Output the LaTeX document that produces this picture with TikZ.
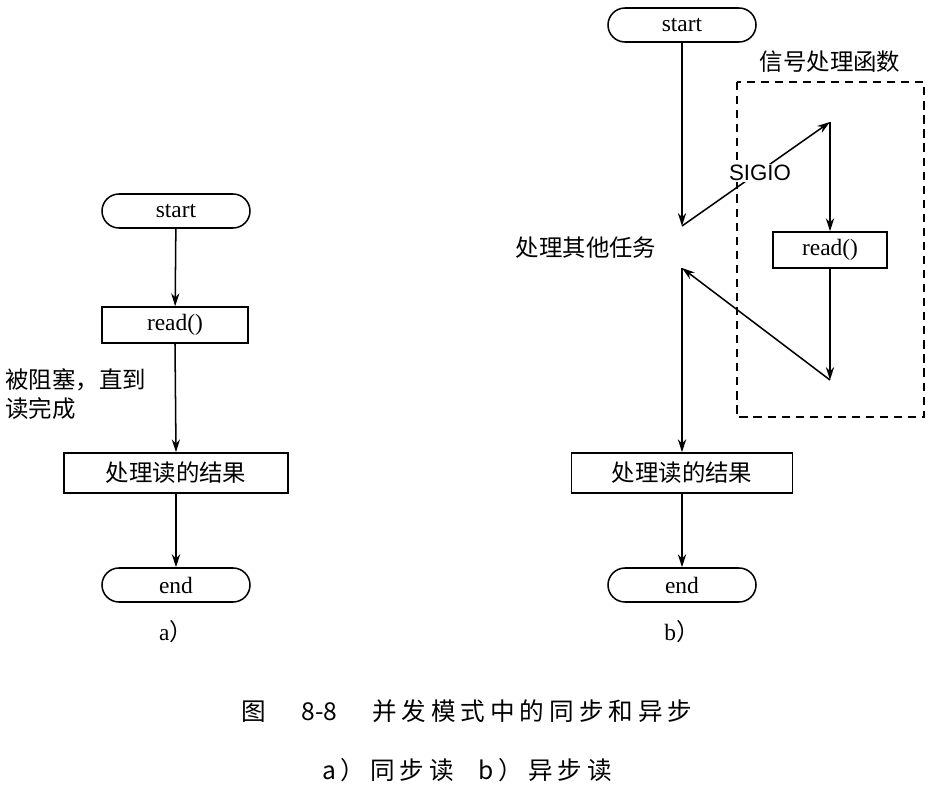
\documentclass[tikz,border=0pt]{standalone}
\usepackage{fontspec}
\setmainfont{Liberation Serif}
\newfontfamily\arialf{Liberation Sans}
\newfontfamily\cjk{Noto Sans CJK SC}
\newfontfamily\cjkcap[LetterSpace=20]{Noto Sans CJK SC}
\usetikzlibrary{arrows.meta}
\begin{document}
\begin{tikzpicture}[x=0.03cm,y=-0.03cm,
  every node/.style={font=\fontsize{20}{23}\selectfont},
  term/.style={draw,line width=1.3pt,rounded corners=17*0.03cm,minimum width=148*0.03cm,minimum height=34*0.03cm,inner sep=0pt},
  box/.style={draw,line width=1.3pt,minimum height=36*0.03cm,inner sep=0pt},
  arr/.style={line width=1.3pt,-{Stealth[length=11pt,width=7pt]}},
  lbl/.style={font=\cjk\fontsize{20}{25}\selectfont,inner sep=1pt}]
\useasboundingbox (0,0) rectangle (934,795);
% a)
\node[term] (sa) at (176,211) {start};
\node[box,minimum width=146*0.03cm] (ra) at (175,325) {read()};
\node[box,minimum width=224*0.03cm,minimum height=40*0.03cm,font=\cjk\fontsize{20}{24}\selectfont] (pa) at (176,473) {处理读的结果};
\node[term] (ea) at (176,585) {end};
\node[lbl,align=left,anchor=west] (la) at (4,394) {被阻塞，直到\\读完成};
\node (ca) at (176,632) {a\cjk）};
\draw[arr] (sa) -- (ra);
\draw[arr] (ra.south) -- (pa.north);
\draw[arr] (pa) -- (ea);
% b)
\node[term] (sb) at (682,25) {start};
\draw[line width=1.3pt,dash pattern=on 7pt off 5pt] (737,82) rectangle (924,417);
\node[lbl] (fn) at (830,62) {信号处理函数};
\node[box,minimum width=114*0.03cm] (rb) at (830,250) {read()};
\node[lbl] (ot) at (586,248) {处理其他任务};
\node[box,minimum width=221*0.03cm,minimum height=40*0.03cm,font=\cjk\fontsize{20}{24}\selectfont] (pb) at (682,473) {处理读的结果};
\node[term] (eb) at (682,585) {end};
\node (cb) at (682,632) {b\cjk）};
\coordinate (c1) at (682,226);
\coordinate (c2) at (830,122);
\coordinate (c3) at (830,380);
\coordinate (c4) at (682,268);
\draw[arr] (sb) -- (c1);
\draw[arr] (c1) -- (c2);
\node[fill=white,inner sep=1pt,font=\arialf\fontsize{19}{22}\selectfont] (sig) at (760,173) {SIGIO};
\draw[arr] (c2) -- (rb);
\draw[arr] (rb) -- (c3);
\draw[arr] (c3) -- (c4);
\draw[arr] (c4) -- (pb);
\draw[arr] (pb) -- (eb);
% caption
\node[font=\cjkcap\fontsize{21}{25}\selectfont] (cap1) at (467,711) {图\quad\ {\cjk 8-8}\quad\ 并发模式中的同步和异步};
\node[font=\cjkcap\fontsize{21}{25}\selectfont] (cap2) at (467,770) {a）同步读\quad b）异步读};
\end{tikzpicture}
\end{document}
